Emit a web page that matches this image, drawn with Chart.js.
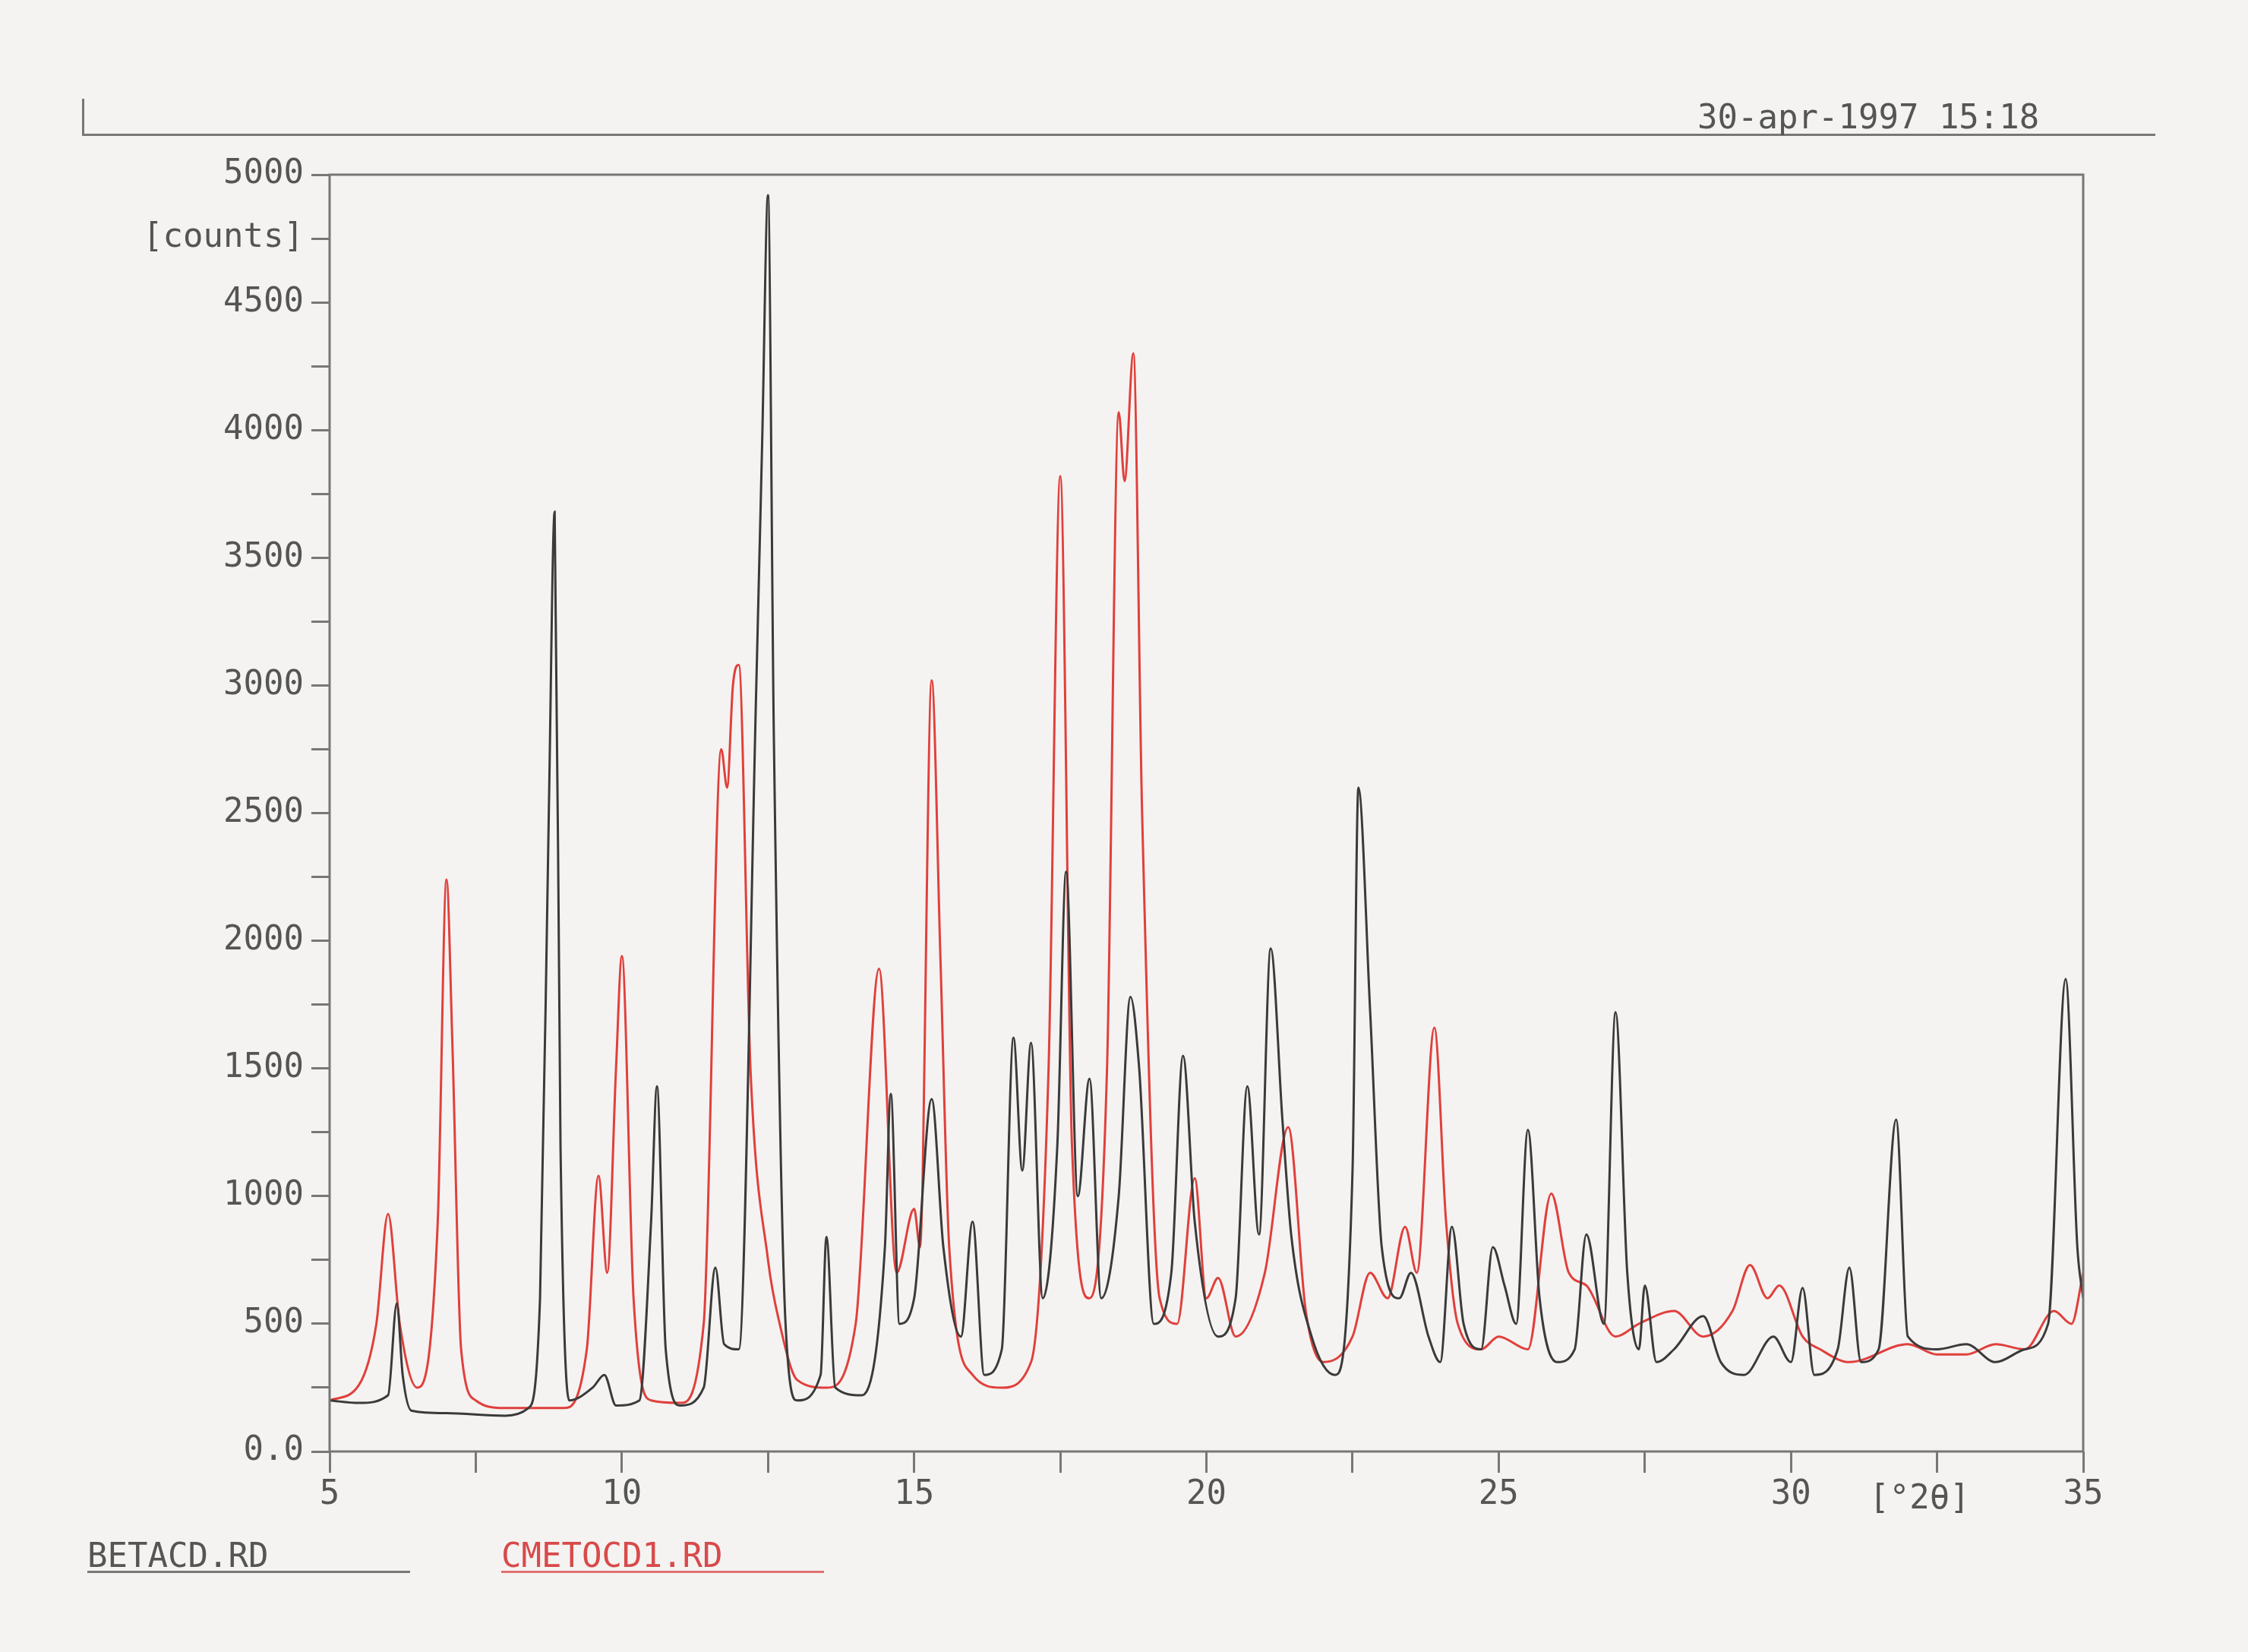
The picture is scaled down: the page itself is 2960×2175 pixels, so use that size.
<!DOCTYPE html>
<html>
<head>
<meta charset="utf-8">
<script src="https://cdn.jsdelivr.net/npm/chart.js@4"></script>
<style>
  body { margin: 0; background: #f4f3f1; }
  #wrap { position: relative; width: 2960px; height: 2175px; }
  .txt { position: absolute; font-family: "DejaVu Sans Mono", monospace; font-size: 44px; color: #555; }
</style>
</head>
<body>
<div id="wrap">
  <canvas id="myChart" width="2960" height="2175"></canvas>
  <div style="position:absolute;left:108px;top:176px;width:2730px;border-top:3px solid #777"></div>
  <div style="position:absolute;left:108px;top:130px;height:48px;border-left:3px solid #777"></div>
  <div class="txt" style="left:2235px;top:128px">30-apr-1997 15:18</div>
  <div class="txt" style="left:115px;top:2022px">BETACD.RD</div>
  <div style="position:absolute;left:115px;top:2068px;width:425px;border-top:3px solid #777"></div>
  <div class="txt" style="left:660px;top:2022px;color:#d84a4a">CMETOCD1.RD</div>
  <div style="position:absolute;left:660px;top:2068px;width:425px;border-top:3px solid #e07070"></div>
</div>
<script>
"use strict";
const betaX = [5, 5.5, 6.0, 6.15, 6.25, 6.4, 7, 8, 8.4, 8.6, 8.75, 8.85, 8.95, 9.1, 9.5, 9.7, 9.9, 10.3, 10.5, 10.6, 10.75, 11, 11.4, 11.6, 11.75, 12.0, 12.3, 12.4, 12.5, 12.6, 12.8, 13.0, 13.4, 13.5, 13.65, 14.1, 14.5, 14.6, 14.75, 15.0, 15.3, 15.5, 15.8, 16.0, 16.2, 16.5, 16.7, 16.85, 17.0, 17.2, 17.45, 17.6, 17.8, 18.0, 18.2, 18.5, 18.7, 18.85, 19.1, 19.4, 19.6, 19.8, 20.2, 20.5, 20.7, 20.9, 21.1, 21.3, 21.45, 21.8, 22.2, 22.5, 22.6, 22.8, 23.0, 23.3, 23.5, 23.8, 24.0, 24.2, 24.4, 24.7, 24.9, 25.1, 25.3, 25.5, 25.7, 26.0, 26.3, 26.5, 26.8, 27.0, 27.2, 27.4, 27.5, 27.7, 28.0, 28.5, 28.8, 29.2, 29.7, 30.0, 30.2, 30.4, 30.8, 31.0, 31.2, 31.5, 31.8, 32.0, 32.5, 33.0, 33.5, 34.0, 34.4, 34.7, 34.9, 35];
const betaY = [200, 190, 220, 580, 300, 160, 150, 140, 170, 600, 2500, 3680, 1200, 200, 250, 300, 180, 200, 900, 1430, 400, 180, 250, 720, 420, 400, 3000, 3950, 4920, 2800, 500, 200, 300, 840, 250, 220, 800, 1400, 500, 600, 1380, 800, 450, 900, 300, 400, 1620, 1100, 1600, 600, 1200, 2270, 1000, 1460, 600, 1000, 1780, 1500, 500, 700, 1550, 900, 450, 600, 1430, 850, 1970, 1300, 850, 450, 300, 1100, 2600, 1730, 800, 600, 700, 450, 350, 880, 500, 400, 800, 650, 500, 1260, 600, 350, 400, 850, 500, 1720, 700, 400, 650, 350, 400, 530, 350, 300, 450, 350, 640, 300, 400, 720, 350, 400, 1300, 450, 400, 420, 350, 400, 500, 1850, 800, 600];
const cmetX = [5, 5.5, 5.8, 6.0, 6.2, 6.5, 6.85, 7.0, 7.1, 7.25, 7.5, 8.0, 9.0, 9.4, 9.6, 9.75, 9.9, 10.0, 10.2, 10.5, 11.0, 11.4, 11.7, 11.8, 11.9, 12.0, 12.2, 12.5, 12.7, 13.0, 13.5, 14.0, 14.4, 14.7, 15.0, 15.1, 15.3, 15.45, 15.6, 16.0, 16.5, 17.0, 17.3, 17.5, 17.7, 18.0, 18.3, 18.5, 18.6, 18.75, 18.9, 19.2, 19.5, 19.8, 20.0, 20.2, 20.5, 21.0, 21.4, 21.7, 22.0, 22.5, 22.8, 23.1, 23.4, 23.6, 23.9, 24.1, 24.3, 24.7, 25.0, 25.5, 25.9, 26.2, 26.5, 27.0, 27.4, 28.0, 28.5, 29.0, 29.3, 29.6, 29.8, 30.2, 30.5, 31.0, 32.0, 32.5, 33.0, 33.5, 34.0, 34.5, 34.8, 35];
const cmetY = [200, 260, 500, 930, 500, 250, 900, 2240, 1600, 400, 200, 170, 170, 400, 1080, 700, 1500, 1940, 600, 200, 190, 500, 2750, 2600, 3000, 3080, 1500, 750, 500, 280, 250, 500, 1890, 700, 950, 800, 3020, 1930, 800, 300, 250, 350, 1500, 3820, 1200, 600, 1500, 4070, 3800, 4300, 2500, 600, 500, 1070, 600, 680, 450, 700, 1270, 550, 350, 450, 700, 600, 880, 700, 1660, 900, 500, 400, 450, 400, 1010, 700, 650, 450, 500, 550, 450, 550, 730, 600, 650, 450, 400, 350, 420, 380, 380, 420, 400, 550, 500, 700];
const yTicks = [0, 500, 1000, 1500, 2000, 2500, 3000, 3500, 4000, 4500, 5000];
const xTicks = [5, 10, 15, 20, 25, 30, 35];

const toPts = (xs, ys) => xs.map((x, i) => ({ x: x, y: ys[i] }));

const frame = {
    id: "frame",
    afterDraw(chart) {
        const a = chart.chartArea, c = chart.ctx;
        c.save();
        c.strokeStyle = "#777";
        c.lineWidth = 3;
        c.strokeRect(a.left, a.top, a.right - a.left, a.bottom - a.top);
        c.fillStyle = "#555";
        c.font = "44px 'DejaVu Sans Mono'";
        c.textAlign = "center";
        c.fillText("[\u00b02\u03b8]", chart.scales.x.getPixelForValue(32.2), a.bottom + 75);
        c.restore();
    }
};

const ctx = document.querySelector("#myChart").getContext("2d");
const myChart = new Chart(ctx, {
    type: "line",
    data: {
        datasets: [{
            label: "BETACD.RD",
            data: toPts(betaX, betaY),
            borderColor: "#3a3a3a",
            borderWidth: 3
        }, {
            label: "CMETOCD1.RD",
            data: toPts(cmetX, cmetY),
            borderColor: "#e0403c",
            borderWidth: 3
        }]
    },
    plugins: [frame],
    options: {
        responsive: false,
        animation: false,
        layout: { padding: { top: 230, right: 217, left: 0, bottom: 0 } },
        elements: { point: { radius: 0 }, line: { cubicInterpolationMode: "monotone" } },
        plugins: { legend: { display: false }, tooltip: { enabled: false } },
        scales: {
            x: {
                type: "linear", min: 5, max: 35,
                afterFit: s => { s.height = 264; },
                afterBuildTicks: s => {
                    s.ticks = [];
                    for (let v = 5; v <= 35; v += 2.5) s.ticks.push({ value: v });
                },
                ticks: {
                    autoSkip: false, maxRotation: 0, color: "#555",
                    font: { family: "DejaVu Sans Mono", size: 44 },
                    callback: v => xTicks.includes(v) ? String(v) : ""
                },
                grid: { drawOnChartArea: false, color: "#777", lineWidth: 3, tickLength: 28 },
                border: { display: false }
            },
            y: {
                min: 0, max: 5000,
                afterFit: s => { s.width = 434; },
                afterBuildTicks: s => {
                    s.ticks = [];
                    for (let v = 0; v <= 5000; v += 250) s.ticks.push({ value: v });
                },
                ticks: {
                    autoSkip: false, color: "#555", padding: 10,
                    font: { family: "DejaVu Sans Mono", size: 44 },
                    callback: v => v === 0 ? "0.0" : v === 4750 ? "[counts]" : (yTicks.includes(v) ? String(v) : "")
                },
                grid: { drawOnChartArea: false, color: "#777", lineWidth: 3, tickLength: 24 },
                border: { display: false }
            }
        }
    }
});
</script>
</body>
</html>
